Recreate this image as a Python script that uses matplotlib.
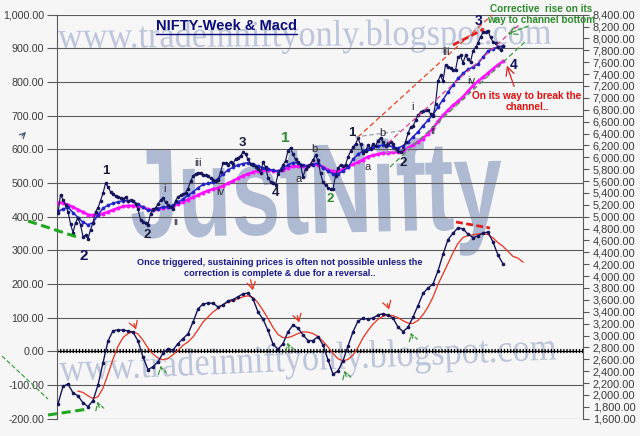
import numpy as np
import matplotlib
matplotlib.use('Agg')
import matplotlib.pyplot as plt
from matplotlib.textpath import TextPath
from matplotlib.patches import PathPatch, FancyArrowPatch
from matplotlib.font_manager import FontProperties
from matplotlib.transforms import Affine2D
from matplotlib.lines import Line2D
from matplotlib.ticker import FuncFormatter, MultipleLocator

# ---------------- data (weekly index) ----------------
price = [5061, 5369, 5285, 5201, 5083, 4882, 4730, 4898, 4982, 4865,
         4663, 4688, 4629, 4781, 4898, 5083, 5150, 5268, 5394, 5562,
         5504, 5420, 5377, 5352, 5335, 5319, 5302, 5330, 5260, 5277,
         5260, 5218, 5125, 4949, 4915, 4898, 4865, 5050, 5125, 5150,
         5209, 5282, 5310, 5243, 5196, 5159, 5134, 5268, 5335, 5360,
         5380, 5403, 5473, 5596, 5680, 5722, 5739, 5739, 5705, 5702,
         5680, 5646, 5616, 5594, 5613, 5747, 5904, 5907, 5873, 5924,
         5890, 5974, 5991, 6025, 6083, 6061, 5966, 5895, 5865, 5840,
         5810, 5739, 5915, 5840, 5655, 5588, 5567, 5537, 5714, 5789,
         5868, 5941, 6109, 6159, 6050, 5966, 5914, 5873, 5672, 5806,
         5857, 5890, 5957, 6033, 5949, 5730, 5579, 5529, 5487, 5470,
         5470, 5688, 5815, 5877, 5857, 5873, 6008, 6100, 6168, 6218,
         6319, 6218, 6075, 6109, 6201, 6142, 6226, 6184, 6280, 6327,
         6252, 6193, 6235, 6260, 6218, 6142, 6100, 6083, 6142, 6260,
         6403, 6504, 6521, 6621, 6705, 6756, 6781, 6798, 6798, 6731,
         6689, 6899, 7285, 7378, 7285, 7554, 7521, 7504, 7470, 7462,
         7689, 7714, 7588, 7714, 7647, 7605, 7790, 7849, 7924, 8025,
         8101, 8117, 8131, 8017, 7941, 7916, 7857, 7807, 7874]
price_weeks = np.arange(len(price))

ma_weeks = np.arange(0, 180, 2)
blue_ma = [5090, 5129, 5159, 5070, 4986, 4907, 4865, 4898, 5033, 5142,
           5193, 5226, 5251, 5268, 5268, 5256, 5209, 5159, 5108, 5105,
           5137, 5164, 5169, 5193, 5246, 5298, 5361, 5414, 5487, 5542,
           5559, 5583, 5638, 5714, 5786, 5831, 5870, 5894, 5910, 5885,
           5853, 5820, 5801, 5784, 5762, 5820, 5875, 5912, 5912, 5865,
           5857, 5878, 5902, 5828, 5764, 5725, 5719, 5769, 5831, 5966,
           6050, 6109, 6142, 6171, 6189, 6204, 6199, 6176, 6156, 6193,
           6255, 6344, 6428, 6532, 6623, 6717, 6845, 6971, 7097, 7218,
           7327, 7412, 7479, 7521, 7571, 7689, 7790, 7827, 7857, 7874]
magenta_ma = [5235, 5235, 5201, 5161, 5119, 5078, 5036, 5021, 5030, 5053,
              5082, 5115, 5145, 5172, 5184, 5184, 5179, 5157, 5127, 5110,
              5130, 5149, 5162, 5181, 5214, 5250, 5287, 5324, 5366, 5406,
              5440, 5463, 5482, 5520, 5562, 5604, 5646, 5688, 5722, 5749,
              5776, 5783, 5789, 5776, 5762, 5789, 5823, 5845, 5845, 5845,
              5858, 5882, 5873, 5835, 5793, 5761, 5761, 5799, 5843, 5882,
              5917, 5961, 6011, 6033, 6055, 6072, 6077, 6082, 6092, 6109,
              6157, 6205, 6262, 6315, 6399, 6490, 6603, 6707, 6791, 6875,
              6942, 7020, 7112, 7208, 7279, 7349, 7418, 7489, 7558, 7613]
macd = [-156, -104, -97, -123, -132, -153, -164, -146, -100, -34,
        31, 61, 64, 63, 61, 57, 31, -17, -54, -46,
        -31, -5, 8, 4, 23, 38, 52, 87, 126, 141,
        143, 143, 132, 138, 150, 154, 162, 171, 173, 156,
        117, 96, 62, 22, 6, 23, 58, 78, 69, 49,
        32, 32, 44, 19, -25, -68, -58, -28, 16, 58,
        90, 98, 96, 99, 108, 112, 107, 99, 72, 59,
        71, 102, 136, 172, 188, 200, 239, 288, 332, 351,
        367, 364, 348, 338, 343, 352, 354, 325, 286, 260]
signal_weeks = np.arange(8, 188, 2)
signal = [-118, -122, -132, -140, -135, -109, -68, -23, 15, 41,
          53, 58, 52, 33, 10, -8, -20, -25, -21, -10,
          3, 18, 28, 43, 64, 87, 102, 117, 128, 139,
          146, 151, 156, 162, 165, 160, 144, 122, 98, 71,
          50, 41, 41, 46, 53, 58, 57, 53, 44, 30,
          13, -6, -22, -28, -24, -11, 12, 40, 62, 81,
          95, 104, 108, 106, 100, 91, 84, 83, 92, 109,
          132, 161, 199, 230, 261, 293, 321, 338, 344, 346,
          349, 349, 347, 337, 323, 312, 297, 282, 277, 265]

# ---------------- figure ----------------
W, H = 640, 436
BG = '#f6f6f6'
fig = plt.figure(figsize=(W / 100, H / 100), dpi=100)
fig.patch.set_facecolor(BG)

def F(x, y):
    return (x / W, 1 - y / H)

ax = fig.add_axes([57 / W, 1 - 418.7 / H, (583 - 57) / W, (418.7 - 14.7) / H])
ax.set_facecolor(BG)
ax.set_xlim(-0.4, 210)
ax.set_ylim(-200, 1000)
ax.set_xticks([])
ax.yaxis.set_major_locator(MultipleLocator(100))
ax.yaxis.set_major_formatter(FuncFormatter(lambda v, p: f'{v:,.2f}'))
ax.set_axisbelow(True)
ax.grid(axis='y', color='#5a5a5a', lw=0.8)
ax.tick_params(axis='y', length=7.2, width=0.8, color='#5a5a5a', pad=2.2,
               labelsize=7.7, labelcolor='#3a3a3a')
for lab in ax.get_yticklabels():
    lab.set_family('Liberation Sans')
for s in ['top', 'bottom', 'right']:
    ax.spines[s].set_visible(False)
ax.spines['left'].set_color('#5a5a5a')

ax2 = ax.twinx()
ax2.set_ylim(1600, 8400)
ax2.yaxis.set_major_locator(MultipleLocator(200))
ax2.yaxis.set_major_formatter(FuncFormatter(lambda v, p: f'{v:,.2f}'))
ax2.tick_params(axis='y', length=4, width=0.8, color='#5a5a5a', pad=3,
                labelsize=7.9, labelcolor='#3a3a3a')
for lab in ax2.get_yticklabels():
    lab.set_family('Liberation Sans')
for s in ['top', 'bottom', 'left']:
    ax2.spines[s].set_visible(False)
ax2.spines['right'].set_color('#5a5a5a')

# ---------------- watermarks ----------------
def watermark(text, fp, x0, base_y, width, ref_char, ref_h, angle, color):
    tp = TextPath((0, 0), text, size=100, prop=fp)
    ext = tp.get_extents()
    rh = TextPath((0, 0), ref_char, size=100, prop=fp).get_extents().y1
    sx = width / ext.width
    sy = ref_h / rh
    tr = (Affine2D().translate(-ext.x0, 0).scale(sx, sy).rotate_deg(angle)
          .translate(x0, H - base_y).scale(1 / W, 1 / H)) + fig.transFigure
    patch = PathPatch(tp, transform=tr, facecolor=color, edgecolor='none',
                      zorder=0.2, clip_on=False)
    ax.add_artist(patch)

serif = FontProperties(family='Liberation Serif')
boldsans = FontProperties(family='Liberation Sans', weight='bold')
watermark('www.tradeinniftyonly.blogspot.com', serif, 58, 48, 493, 'x', 17, 0.5, '#bcc5da')
watermark('www.tradeinniftyonly.blogspot.com', serif, 60, 381, 497, 'x', 18, 2.5, '#bcc5da')
watermark('JustNifty', boldsans, 132, 238, 371, 'N', 88, 1.5, '#aebad2')

# ---------------- series ----------------
ax.axhline(0, color='black', lw=0.9, zorder=2)
ax.axhline(0, color='black', lw=3.0, linestyle=(0, (0.3, 0.45)), zorder=2)

ax2.plot(ma_weeks, magenta_ma, color='#ff10ff', lw=1.8, marker='o', ms=1.9, zorder=3)
ax2.plot(ma_weeks, blue_ma, color='#2323c8', lw=1.1, marker='o', ms=1.7, zorder=4)
ax2.plot(price_weeks, price, color='#15155c', lw=0.85, marker='o', ms=1.6, zorder=5)
ax.plot(ma_weeks, macd, color='#15155c', lw=1.0, marker='o', ms=1.6, zorder=4)
ax.plot(signal_weeks, signal, color='#e8321e', lw=0.9, zorder=3)

# ---------------- title ----------------
title = fig.text(156 / W, 1 - 25.5 / H, 'NIFTY-Week & Macd', fontsize=10.5, weight='bold',
                 color='#0b0b7a', family='Liberation Sans', ha='left', va='center')

# ---------------- annotation lines & arrows ----------------
def line(p0, p1, color, lw, ls='--', dashes=None):
    l = Line2D([p0[0] / W, p1[0] / W], [1 - p0[1] / H, 1 - p1[1] / H],
               transform=fig.transFigure, color=color, lw=lw, linestyle=ls, zorder=6)
    if dashes is not None:
        l.set_dashes(dashes)
    fig.add_artist(l)

def arrow(tail, head, color, lw=0.9, ls='-', hl=4, hw=2.5):
    a = FancyArrowPatch(F(*tail), F(*head), transform=fig.transFigure,
                        arrowstyle=f'->,head_length={hl:.1f},head_width={hw:.1f}',
                        color=color, lw=lw, linestyle=ls, zorder=7, mutation_scale=1)
    fig.add_artist(a)

line((28, 221), (77, 237), '#1fa81f', 2.2, dashes=(3, 1.5))
line((48, 415), (88, 409), '#1fa81f', 2.2, dashes=(3, 1.5))
line((2, 356), (48, 399), '#2e9a2e', 0.8, dashes=(4, 2))
line((358, 137), (492, 15), '#e8421e', 0.9, dashes=(4, 2.5))
line((388, 143), (520, 24), '#e0409a', 0.9, dashes=(4, 2.5))
line((390, 167), (527, 40), '#3a9a3a', 0.9, dashes=(4, 2.5))
line((355, 137), (400, 131), '#8c95a8', 0.8, dashes=(4, 2.5))
line((385, 153), (412, 148), '#8c95a8', 0.8, dashes=(4, 2.5))
line((453, 45), (484, 29), '#e02020', 2.0, dashes=(2.5, 1.2))
line((456, 222), (490, 228), '#e02020', 2.0, dashes=(2.5, 1.2))

for t, h in [((133, 321), (137, 332)), ((250, 277), (253.5, 293)),
             ((296.5, 313), (300, 325)), ((386.5, 301), (390, 312))]:
    arrow(t, h, '#e8321e', lw=0.9, hl=5, hw=3)
for t, h in [((100, 410), (96.5, 399)), ((162, 372), (160, 363)),
             ((290, 351), (286.5, 340)), ((347, 379), (343.5, 368)),
             ((413.5, 341), (410, 330))]:
    arrow(t, h, '#3a9a3a', lw=0.9, ls='--', hl=5, hw=3)
arrow((531, 25), (505, 35), '#3a9a3a', lw=0.9, ls='--', hl=6, hw=3)
arrow((515, 89), (506, 63), '#e02020', lw=0.9, hl=6, hw=3)
arrow((20, 138), (28, 130), '#405070', lw=0.8, hl=4, hw=2)

# ---------------- texts ----------------
fig.text(541 / W, 1 - 14.7 / H, 'Corrective  rise on its\nway to channel bottom',
         ha='center', va='center', fontsize=7.2, weight='bold', color='#2e8b2e',
         family='Liberation Sans', linespacing=1.1, zorder=8)
fig.text(527 / W, 1 - 101.5 / H, 'On its way to break the\nchannel..',
         ha='center', va='center', fontsize=7.2, weight='bold', color='#e01010',
         family='Liberation Sans', linespacing=1.1, zorder=8)
fig.text(280 / W, 1 - 268 / H,
         'Once triggered, sustaining prices is often not possible unless the\n'
         'correction is complete & due for a reversal..',
         ha='center', va='center', fontsize=6.6, weight='bold', color='#1a1a8a',
         family='Liberation Sans', linespacing=1.15, zorder=8)

wave_labels = [("1", 106, 171, '#1a1a3a', 9.5, 'bold'), ("2", 84, 256, '#101060', 11, 'bold'),
               ("2", 147, 235, '#1a1a3a', 9.5, 'bold'), ("i", 165, 189, '#2a2a3a', 8, 'normal'),
               ("ii", 176, 222, '#2a2a3a', 8, 'normal'), ("iii", 198, 163, '#2a2a3a', 8, 'normal'),
               ("iv", 220, 192, '#2a2a3a', 8, 'normal'), ("3", 242, 143, '#1a1a3a', 9.5, 'bold'),
               ("4", 275, 193, '#1a1a3a', 9.5, 'bold'), ("1", 285, 138, '#2e8b2e', 11, 'bold'),
               ("a", 299, 179, '#2a2a3a', 8, 'normal'), ("b", 314, 149, '#2a2a3a', 8, 'normal'),
               ("2", 330, 199, '#2e8b2e', 9.5, 'bold'), ("1", 352, 133, '#1a1a3a', 9.5, 'bold'),
               ("a", 368, 167, '#2a2a3a', 8, 'normal'), ("b", 382, 133, '#2a2a3a', 8, 'normal'),
               ("2", 403, 163, '#1a1a3a', 9.5, 'bold'), ("i", 413, 107, '#2a2a3a', 8, 'normal'),
               ("ii", 433, 131, '#2a2a3a', 8, 'normal'), ("iii", 446, 52, '#2a2a3a', 8, 'normal'),
               ("iv", 471, 81, '#2a2a3a', 8, 'normal'), ("3", 479, 21, '#101060', 10, 'bold'),
               ("4", 514, 65, '#101060', 10, 'bold')]
for txt, x, y, c, fs, fw in wave_labels:
    fig.text(x / W, 1 - y / H, txt, ha='center', va='center', fontsize=fs,
             weight=fw, color=c, family='Liberation Sans', zorder=8)

# underline the title
fig.canvas.draw()
bb = title.get_window_extent()
fig.add_artist(Line2D([bb.x0 / W, bb.x1 / W], [(bb.y0 - 1.5) / H, (bb.y0 - 1.5) / H],
                      transform=fig.transFigure, color='#0b0b7a', lw=1.0))

fig.savefig('out.png', dpi=100, facecolor=BG)
